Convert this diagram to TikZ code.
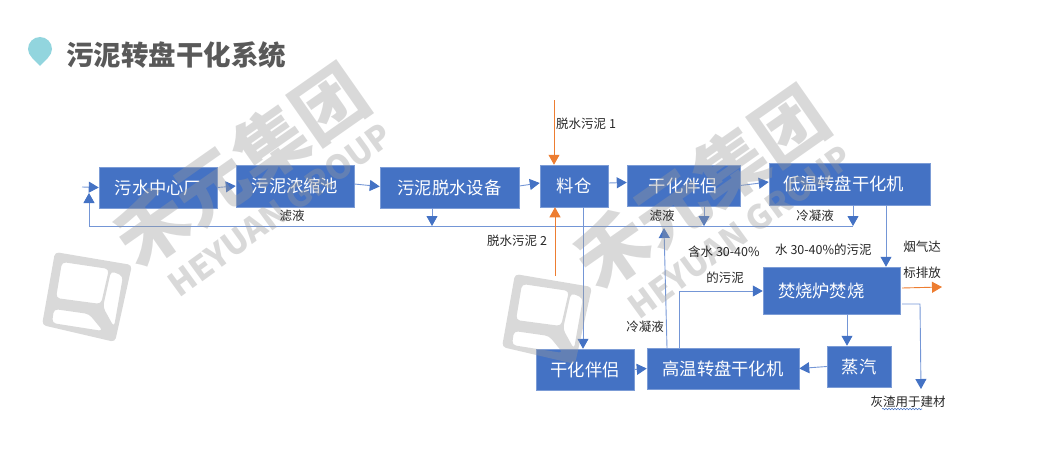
\documentclass[tikz,border=0pt]{standalone}
\usepackage{fontspec}
\setmainfont{Noto Sans CJK SC}
\usetikzlibrary{arrows.meta,decorations.pathmorphing}
\definecolor{boxblue}{HTML}{4472C4}
\definecolor{lineblue}{HTML}{7496D6}
\definecolor{flowinorange}{HTML}{ED7D31}
\definecolor{markerteal}{HTML}{92D5DE}
\definecolor{titlegray}{HTML}{595959}
\definecolor{ink}{HTML}{262626}
\definecolor{stampgray}{HTML}{999999}

\tikzset{
  stamp/.pic={
    \begin{scope}[opacity=0.37]
      \fill[stampgray, even odd rule, rounded corners=4pt]
        (55,252) -- (132,265) -- (115,342) -- (42,325) -- cycle
        (62,262) -- (109,269) -- (101,304) -- (56,298) -- cycle
        (111,271) -- (123,276) -- (114,327) -- (103,307) -- cycle
        (54,309) -- (89,314) -- (103,331) -- (52,323) -- cycle;
      \node[text=stampgray, font=\fontsize{72pt}{72pt}\bfseries, rotate=35, inner sep=0pt]
        (-name) at (241,165) {禾元集团};
      \node[text=stampgray, font=\fontsize{33pt}{33pt}\bfseries, rotate=36, inner sep=0pt]
        (-group) at (280,210) {HEYUAN GROUP};
    \end{scope}
  }
}

\begin{document}
\begin{tikzpicture}[
  x=1pt, y=-1pt,
  font=\fontsize{12.5pt}{14pt}\selectfont,
  box/.style={fill=boxblue, draw=boxblue!70!white, line width=0.5pt, text=white,
    font=\fontsize{17.3pt}{20pt}\selectfont, inner sep=0pt},
  arrow/.style={-{Triangle[length=10pt,width=11pt,fill=boxblue,color=boxblue]}, line width=0.9pt, draw=lineblue},
  inflow/.style={-{Triangle[length=10pt,width=11pt]}, line width=0.9pt, draw=flowinorange},
  note/.style={text=ink, inner sep=0pt}
]
\useasboundingbox (0,0) rectangle (1040,452);

\fill[markerteal] (28,49) arc[start angle=180, end angle=0, radius=12pt]
  .. controls (52,56) and (45,60) .. (40,66) .. controls (35,60) and (28,56) .. (28,49);
\node[text=titlegray, font=\fontsize{27.5pt}{30pt}\bfseries, inner sep=0pt] (title) at (176,55)
  {污泥转盘干化系统};

\node[box, minimum width=118pt, minimum height=41pt] (plant) at (158,187.5) {污水中心厂};
\node[box, minimum width=118pt, minimum height=42pt] (thicken) at (295,186) {污泥浓缩池};
\node[box, minimum width=139pt, minimum height=41pt] (dewater) at (449.5,187.5) {污泥脱水设备};
\node[box, minimum width=68pt, minimum height=42pt] (silo) at (574,186) {料仓};
\node[box, minimum width=113pt, minimum height=41pt] (mixtop) at (683.5,185.5) {干化伴侣};
\node[box, minimum width=161pt, minimum height=42pt, text width=133pt, align=left] (lowdry) at (849.5,184) {低温转盘干化机};
\node[box, minimum width=137pt, minimum height=47pt, text width=107pt, align=left] (burner) at (831.5,290.5) {焚烧炉焚烧};
\node[box, minimum width=98pt, minimum height=41pt] (mixlow) at (585,369.5) {干化伴侣};
\node[box, minimum width=152pt, minimum height=41pt] (highdry) at (723,368.5) {高温转盘干化机};
\node[box, minimum width=64pt, minimum height=41pt] (steam) at (859,366.5) {蒸汽};

\coordinate (feedin) at (82,187);
\coordinate (busleft) at (89,226);
\coordinate (busback) at (89,193);
\coordinate (busright) at (853,226);
\coordinate (tapdewater) at (432,226);
\coordinate (tapmix) at (704,226);
\coordinate (tapreturn) at (664,228);
\coordinate (startreturn) at (667,348);
\coordinate (dropsilo) at (583,280);
\coordinate (dropburner) at (886,240);
\coordinate (dropsteam) at (847,330);
\coordinate (cakeone) at (554,100);
\coordinate (caketwo) at (555,276);
\coordinate (fluegas) at (942,287);
\coordinate (fluestart) at (902,288);
\coordinate (ashstart) at (902,304);
\coordinate (ashturn) at (920,304);
\coordinate (ashend) at (921,389);
\coordinate (burnerturn) at (679,291);

\draw[arrow] (feedin) -- (plant.west);
\draw[arrow] (plant.east) -- (thicken.west);
\draw[arrow] ([yshift=2pt]thicken.east) -- ([yshift=1pt]dewater.west);
\draw[arrow] ([yshift=1.5pt]dewater.east) -- ([yshift=3pt]silo.west);
\draw[arrow] ([yshift=3pt]silo.east) -- ([yshift=3pt]mixtop.west);
\draw[arrow] (mixtop.east) -- ([yshift=2pt]lowdry.west);
\draw[arrow] (busright |- lowdry.south) -- (busright);
\draw[arrow] (tapmix |- mixtop.south) -- (tapmix);
\draw[arrow] (tapdewater |- dewater.south) -- (tapdewater);
\draw[arrow] (busright) -- (busleft) -- (busback);
\draw[inflow] (cakeone) -- (cakeone |- silo.north);
\draw[inflow] (caketwo) -- (caketwo |- silo.south);
\draw[arrow] (dropsilo |- silo.south) -- (dropsilo |- mixlow.north);
\draw[arrow] (startreturn) -- (tapreturn);
\draw[arrow] (burnerturn |- highdry.north) -- (burnerturn) -- (burner.west |- burnerturn);
\draw[arrow] (dropburner |- lowdry.south) -- (dropburner |- burner.north);
\draw[inflow] (fluestart) -- (fluegas);
\draw[arrow] (ashstart) -- (ashturn) -- (ashend);
\draw[arrow] (dropsteam |- burner.south) -- (dropsteam |- steam.north);
\draw[arrow] (steam.west) -- (highdry.east);
\draw[arrow] (mixlow.east) -- (highdry.west);

\pic (stampa) at (0,0) {stamp};
\pic (stampb) at (460,22) {stamp};

\node[note] (filtrateleft) at (292,216) {滤液};
\node[note] (filtrateright) at (662,216) {滤液};
\node[note] (condensetop) at (815,216) {冷凝液};
\node[note, anchor=west] (cakeonelabel) at (556,124) {脱水污泥 1};
\node[note, anchor=west] (caketwolabel) at (487,241) {脱水污泥 2};
\node[note, anchor=west] (wetleft) at (688,252) {含水 30-40\%};
\node[note] (wetleftnext) at (725,278) {的污泥};
\node[note, anchor=west] (wetright) at (775,250) {水 30-40\%的污泥};
\node[note] (flueone) at (922,247) {烟气达};
\node[note] (fluetwo) at (922,273) {标排放};
\node[note] (condenselow) at (645,327) {冷凝液};
\node[note] (ashlabel) at (908,402) {灰渣用于建材};
\draw[boxblue, line width=0.6pt, decorate, decoration={snake, amplitude=0.7pt, segment length=3pt}]
  (882,409) -- (922,409);
\end{tikzpicture}
\end{document}
